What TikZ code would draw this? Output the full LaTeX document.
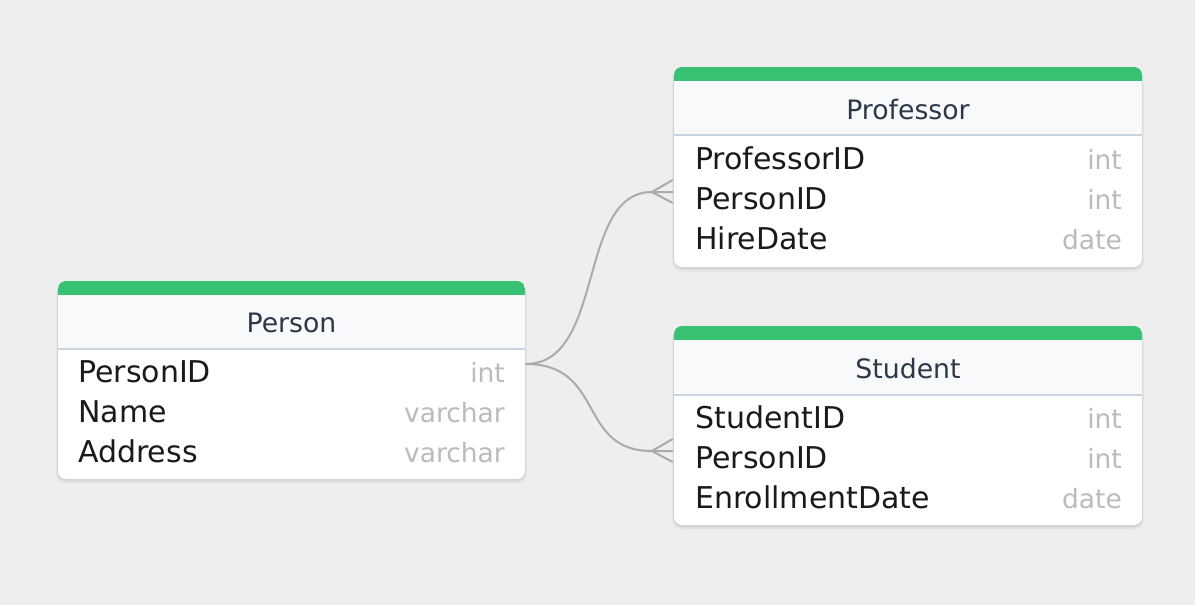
\documentclass[tikz,border=0pt]{standalone}
\usepackage{fontspec}
\setmainfont{DejaVu Sans}
\usetikzlibrary{calc}
\definecolor{bg}{HTML}{EEEEEE}
\definecolor{tgreen}{HTML}{38C172}
\definecolor{hdrbg}{HTML}{F7F9FB}
\definecolor{hdrline}{HTML}{CBD5E1}
\definecolor{hdrtext}{HTML}{2D3748}
\definecolor{nametext}{HTML}{1A1A1A}
\definecolor{typetext}{HTML}{BBBBBB}
\definecolor{conn}{HTML}{ABABAB}
\tikzset{
  fname/.style={anchor=base west, inner sep=0pt, text=nametext, font=\fontsize{30}{36}\selectfont},
  ftype/.style={anchor=base east, inner sep=0pt, text=typetext, font=\fontsize{26.5}{32}\selectfont},
  fhead/.style={anchor=base, inner sep=0pt, text=hdrtext, font=\fontsize{26.7}{32}\selectfont},
  rowbox/.style={inner sep=0pt, minimum width=468pt, minimum height=40pt},
  tablebox/.style={inner sep=0pt},
  relline/.style={draw=conn, line width=2pt},
}
% #1 x1, #2 y1 (top), #3 x2, #4 header line y, #5 y2 (bottom)
\newcommand{\ertable}[5]{%
  \foreach \s/\o in {1/0.035,2/0.03,3/0.025,4/0.02,5/0.015}{%
    \fill[black, opacity=\o, rounded corners=9pt] (#1-\s*0.4,#2+\s*0.6) rectangle (#3+\s*0.4,#5+\s*1.0);
  }
  \fill[white, rounded corners=8pt] (#1,#2) rectangle (#3,#5);
  \begin{scope}
    \clip[rounded corners=8pt] (#1,#2) rectangle (#3,#5);
    \fill[tgreen] (#1,#2) rectangle (#3,#2+14);
    \fill[hdrbg] (#1,#2+14) rectangle (#3,#4);
    \draw[hdrline, line width=2pt] (#1,#4) -- (#3,#4);
  \end{scope}
}
\begin{document}
\begin{tikzpicture}[x=1pt, y=-1pt]
\fill[bg] (0,0) rectangle (1195,605);
\useasboundingbox (0,0) rectangle (1195,605);

% ---------- Person ----------
\ertable{58}{281}{525}{348.5}{479}
\node[tablebox, minimum width=467pt, minimum height=198pt] (person) at (291.5,380) {};
\node[fhead] (person-h) at (291.5,332.7) {Person};
\node[rowbox] (prsn-pid) at (291.5,371) {};
\node[rowbox] (prsn-name) at (291.5,411) {};
\node[rowbox] (prsn-addr) at (291.5,451) {};
\node[fname] (prsn-pid-n) at (78,382) {PersonID};
\node[ftype] (prsn-pid-t) at (505,382) {int};
\node[fname] (prsn-name-n) at (78,422) {Name};
\node[ftype] (prsn-name-t) at (505,422) {varchar};
\node[fname] (prsn-addr-n) at (78,462) {Address};
\node[ftype] (prsn-addr-t) at (505,462) {varchar};

% ---------- Professor ----------
\ertable{674}{67}{1142}{135}{267}
\node[tablebox, minimum width=468pt, minimum height=200pt] (professor) at (908,167) {};
\node[fhead] (prof-h) at (908,119.7) {Professor};
\node[rowbox] (prof-id) at (908,158) {};
\node[rowbox] (prof-pid) at (908,198) {};
\node[rowbox] (prof-hire) at (908,238) {};
\node[fname] (prof-id-n) at (695,169) {ProfessorID};
\node[ftype] (prof-id-t) at (1122,169) {int};
\node[fname] (prof-pid-n) at (695,209) {PersonID};
\node[ftype] (prof-pid-t) at (1122,209) {int};
\node[fname] (prof-hire-n) at (695,249) {HireDate};
\node[ftype] (prof-hire-t) at (1122,249) {date};

% ---------- Student ----------
\ertable{674}{326}{1142}{395}{525}
\node[tablebox, minimum width=468pt, minimum height=199pt] (student) at (908,425.5) {};
\node[fhead] (stud-h) at (908,378.7) {Student};
\node[rowbox] (stud-id) at (908,417) {};
\node[rowbox] (stud-pid) at (908,457) {};
\node[rowbox] (stud-enr) at (908,497) {};
\node[fname] (stud-id-n) at (695,428) {StudentID};
\node[ftype] (stud-id-t) at (1122,428) {int};
\node[fname] (stud-pid-n) at (695,468) {PersonID};
\node[ftype] (stud-pid-t) at (1122,468) {int};
\node[fname] (stud-enr-n) at (695,508) {EnrollmentDate};
\node[ftype] (stud-enr-t) at (1122,508) {date};

% ---------- connectors ----------
\coordinate (prsn-out) at ($(prsn-pid.east)+(0,-7)$);
\coordinate (prof-foot) at ($(prof-pid.west)+(-22,-6)$);
\coordinate (stud-foot) at ($(stud-pid.west)+(-22,-6)$);
\draw[relline] (prsn-out) .. controls +(80,0) and +(-75,0) .. (prof-foot);
\draw[relline] (prsn-out) .. controls +(80,0) and +(-75,0) .. (stud-foot);
\foreach \t in {prof,stud}{
  \draw[relline] ($(\t-pid.west)+(-1,-18)$) -- (\t-foot) -- ($(\t-pid.west)+(-1,-6)$);
  \draw[relline] (\t-foot) -- ($(\t-pid.west)+(-1,5)$);
}
\end{tikzpicture}
\end{document}
